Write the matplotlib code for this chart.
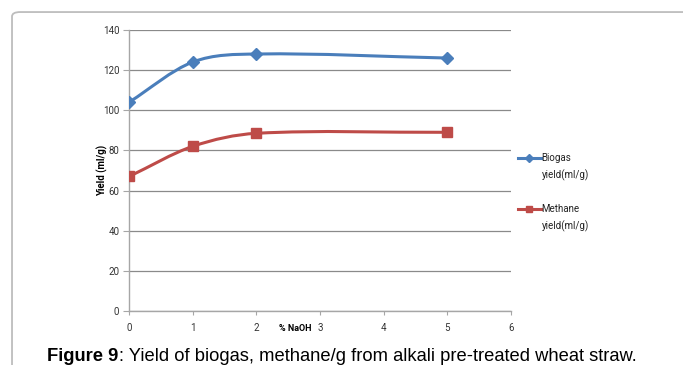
import matplotlib.pyplot as plt
from matplotlib.path import Path
from matplotlib.patches import PathPatch, FancyBboxPatch
from matplotlib.lines import Line2D

naoh = [0, 1, 2, 5]
biogas = [104, 124, 128, 126]
methane = [67, 82, 88.5, 89]
yticks = [0, 20, 40, 60, 80, 100, 120, 140]
xticks = [0, 1, 2, 3, 4, 5, 6]

blue = '#4A7EBB'
red = '#BE4B48'
narrow = ['Liberation Sans Narrow', 'Roboto', 'DejaVu Sans']


def smooth_path(x, y):
    # piecewise cubic hermite drawn as bezier segments
    n = len(x)
    slopes = []
    for i in range(n):
        a = max(i - 1, 0)
        b = min(i + 1, n - 1)
        slopes.append((y[b] - y[a]) / (x[b] - x[a]))
    verts = [(x[0], y[0])]
    codes = [Path.MOVETO]
    for i in range(n - 1):
        h = (x[i + 1] - x[i]) / 3
        verts += [(x[i] + h, y[i] + h * slopes[i]),
                  (x[i + 1] - h, y[i + 1] - h * slopes[i + 1]),
                  (x[i + 1], y[i + 1])]
        codes += [Path.CURVE4] * 3
    return Path(verts, codes)


fig = plt.figure(figsize=(6.83, 3.65), dpi=100)
ax = fig.add_axes([0.189, 0.148, 0.559, 0.770])

# outer chart frame
frame = FancyBboxPatch((0.0176, -0.2), 1.2, 1.167, boxstyle='round,pad=0,rounding_size=0.012',
                       transform=fig.transFigure, fill=False, edgecolor='#bdbdbd', lw=1.3,
                       clip_on=False)
fig.patches.append(frame)

for vals, col, mk, ms in [(biogas, blue, 'D', 6), (methane, red, 's', 6.5)]:
    ax.add_patch(PathPatch(smooth_path(naoh, vals), fill=False, edgecolor=col, lw=2.2, zorder=3))
    ax.plot(naoh, vals, linestyle='none', marker=mk, markersize=ms, color=col, zorder=4)

ax.set_xlim(0, 6)
ax.set_ylim(0, 140)
ax.set_yticks(yticks)
ax.set_xticks(xticks)
ax.grid(axis='y', color='#8a8a8a', lw=0.9)
ax.set_axisbelow(True)
for s in ['top', 'right']:
    ax.spines[s].set_visible(False)
for s in ['left', 'bottom']:
    ax.spines[s].set_color('#a6a6a6')
    ax.spines[s].set_linewidth(1.0)
ax.tick_params(axis='y', length=4, color='#a6a6a6', pad=3, labelsize=7)
ax.tick_params(axis='x', length=3, color='#a6a6a6', pad=6, labelsize=7)
for lab in ax.get_xticklabels() + ax.get_yticklabels():
    lab.set_family(narrow)
    lab.set_color('#333333')

ax.set_ylabel('Yield (ml/g)', fontsize=7, fontweight='bold', family=narrow)
ax.yaxis.set_label_coords(-0.056, 0.5)
ax.text(0.393, -0.045, '% NaOH', transform=ax.transAxes, fontsize=6.5, fontweight='bold',
        family=narrow, ha='left', va='top')

# legend on the right
for yl, col, mk, ms, name in [(0.567, blue, 'D', 4.5, 'Biogas'), (0.427, red, 's', 5, 'Methane')]:
    fig.add_artist(Line2D([0.758, 0.792], [yl, yl], color=col, lw=2.2, transform=fig.transFigure))
    fig.add_artist(Line2D([0.775], [yl], marker=mk, markersize=ms, color=col,
                          transform=fig.transFigure))
    fig.text(0.793, yl, name, fontsize=7, family=narrow, va='center', color='#222222')
    fig.text(0.793, yl - 0.046, 'yield(ml/g)', fontsize=7, family=narrow, va='center',
             color='#222222')

t1 = fig.text(0.069, 0.01, 'Figure 9', fontsize=13.2, family='Liberation Sans',
              fontweight='bold', va='baseline')
fig.canvas.draw()
bb = t1.get_window_extent()
fig.text(bb.x1 / fig.bbox.width, 0.01, ': Yield of biogas, methane/g from alkali pre-treated wheat straw.',
         fontsize=13.2, family='Liberation Sans', va='baseline')

fig.savefig('out.png', dpi=100)
